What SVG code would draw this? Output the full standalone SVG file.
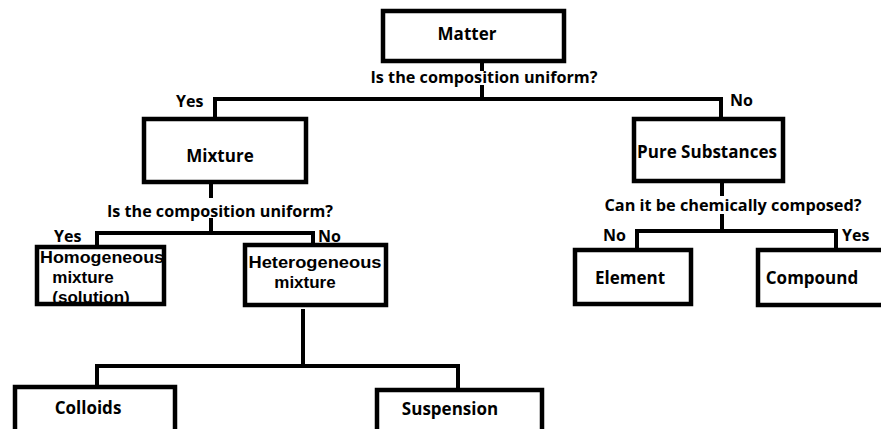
<svg xmlns="http://www.w3.org/2000/svg" width="881" height="429" viewBox="0 0 881 429">
<style>
.box{fill:#fff;stroke:#000;stroke-width:4.5}
.ln{fill:none;stroke:#000;stroke-width:4;stroke-linecap:square}
text{font-family:"Open Sans","Liberation Sans",Arial,sans-serif;font-weight:bold;font-size:17px;fill:#000}
.c{text-anchor:middle}
.s{font-size:16px}
.m{font-family:"Liberation Sans",Arial,sans-serif;font-size:17px}
</style>
<rect width="881" height="429" fill="#fff"/>
<g id="connectors">
<path class="ln" d="M482 61V69M482 87V99M215 117V99H721V117"/>
<path class="ln" d="M211 182V196M211 220V233M97 245V233H313V243"/>
<path class="ln" d="M722 181V194M722 216V231M637 248V231H836V248"/>
<path class="ln" d="M303 311V366M97 385V366H458V388"/>
</g>
<g id="labels">
<text class="c s" x="484" y="83" textLength="227" lengthAdjust="spacingAndGlyphs">Is the composition uniform?</text>
<text class="s" x="176" y="107">Yes</text>
<text class="s" x="730" y="106">No</text>
<text class="c s" x="220" y="217" textLength="226" lengthAdjust="spacingAndGlyphs">Is the composition uniform?</text>
<text class="s" x="54" y="242">Yes</text>
<text class="s" x="318" y="242">No</text>
<text class="c s" x="733" y="211" textLength="257" lengthAdjust="spacingAndGlyphs">Can it be chemically composed?</text>
<text class="s" x="603" y="241">No</text>
<text class="s" x="842" y="241">Yes</text>
</g>
<g id="matter"><rect class="box" x="383" y="11" width="181" height="50"/><text class="c" x="467" y="40">Matter</text></g>
<g id="mixture"><rect class="box" x="144" y="119" width="162" height="63"/><text class="c" x="220" y="162">Mixture</text></g>
<g id="pure"><rect class="box" x="634" y="119" width="149" height="62"/><text class="c" x="707" y="158">Pure Substances</text></g>
<g id="homogeneous"><rect class="box" x="37" y="247" width="127" height="57"/><text class="c m" x="102" y="263" textLength="124" lengthAdjust="spacingAndGlyphs">Homogeneous</text><text class="c m" x="83" y="283">mixture</text><text class="c m" x="91" y="303">(solution)</text></g>
<g id="heterogeneous"><rect class="box" x="245" y="245" width="141" height="60"/><text class="c m" x="315" y="268" textLength="133" lengthAdjust="spacingAndGlyphs">Heterogeneous</text><text class="c m" x="305" y="288">mixture</text></g>
<g id="element"><rect class="box" x="575" y="250" width="116" height="54"/><text class="c" x="630" y="284">Element</text></g>
<g id="compound"><rect class="box" x="758" y="250" width="130" height="55"/><text class="c" x="812" y="284">Compound</text></g>
<g id="colloids"><rect class="box" x="15" y="387" width="160" height="60"/><text class="c" x="88" y="414">Colloids</text></g>
<g id="suspension"><rect class="box" x="377" y="390" width="165" height="60"/><text class="c" x="450" y="415">Suspension</text></g>
</svg>
